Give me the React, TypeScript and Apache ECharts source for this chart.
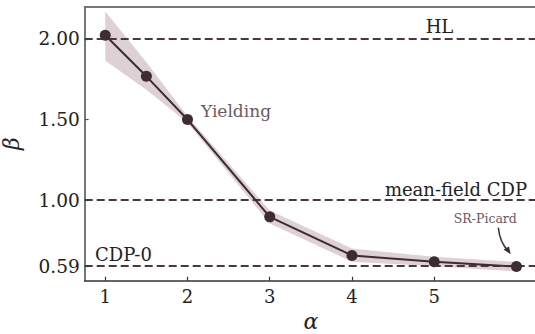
import React, { useEffect, useRef } from "react";
import * as echarts from "echarts";

const alphas = [1, 1.5, 2, 3, 4, 5, 6];
const betaValues = [2.023, 1.768, 1.5, 0.896, 0.657, 0.617, 0.588];
const bandUpper = [2.17, 1.855, 1.52, 0.935, 0.7, 0.648, 0.617];
const bandLower = [1.864, 1.685, 1.48, 0.855, 0.618, 0.59, 0.558];
const refLines = [
  { value: 2.0, label: "HL" },
  { value: 1.0, label: "mean-field CDP" },
  { value: 0.59, label: "CDP-0" },
];
const yTicks = [0.59, 1.0, 1.5, 2.0];
const xTicks = [1, 2, 3, 4, 5];

const FONT = "DejaVu Serif";
const DARK = "#3e2c34";
const DASH = "#4a3840";
const BAND = "#ddd1d4";
const MAUVE = "#6d5963";

export default function App() {
  const ref = useRef<HTMLDivElement>(null);
  useEffect(() => {
    if (!ref.current) return;
    const chart = echarts.init(ref.current, null, { renderer: "svg" });
    const option: any = {
      animation: false,
      backgroundColor: "#ffffff",
      grid: { left: 84.7, right: -2, top: 6.7, bottom: 53.3, containLabel: false, outerBoundsMode: "none" },
      xAxis: [
        {
          type: "value",
          min: 0.75,
          max: 6.25,
          name: "α",
          nameLocation: "middle",
          nameGap: 30,
          nameTextStyle: { fontFamily: FONT, fontStyle: "italic", fontSize: 22, color: "#222" },
          axisLine: { show: true, lineStyle: { color: "#333", width: 1.6 } },
          axisTick: { show: true, inside: true, length: 4, lineStyle: { color: "#333", width: 1.2 }, customValues: xTicks },
          axisLabel: {
            fontFamily: FONT,
            fontSize: 18,
            color: "#222",
            margin: 7,
            customValues: xTicks,
            formatter: (v: number) => String(v),
          },
          splitLine: { show: false },
        },
        {
          type: "value",
          position: "top",
          min: 0.75,
          max: 6.25,
          axisLine: { show: true, onZero: false, lineStyle: { color: "#777", width: 2 } },
          axisTick: { show: false },
          axisLabel: { show: false },
          splitLine: { show: false },
        },
      ],
      yAxis: {
        type: "value",
        min: 0.5,
        max: 2.2,
        name: "β",
        nameLocation: "middle",
        nameGap: 62,
        nameRotate: 90,
        nameTextStyle: { fontFamily: FONT, fontStyle: "italic", fontSize: 22, color: "#222" },
        axisLine: { show: true, onZero: false, lineStyle: { color: "#555", width: 1.6 } },
        axisTick: { show: true, inside: true, length: 4, lineStyle: { color: "#555", width: 1.2 }, customValues: yTicks },
        axisLabel: {
          fontFamily: FONT,
          fontSize: 18.5,
          color: "#222",
          margin: 5,
          customValues: yTicks,
          formatter: (v: number) => v.toFixed(2),
        },
        splitLine: { show: false },
      },
      series: [
        {
          type: "custom",
          silent: true,
          z: 1,
          data: [0],
          renderItem: (params: any, api: any) => {
            const up = alphas.map((a, i) => api.coord([a, bandUpper[i]]));
            const lo = alphas.map((a, i) => api.coord([a, bandLower[i]])).reverse();
            return {
              type: "polygon",
              shape: { points: up.concat(lo) },
              style: { fill: BAND },
            };
          },
        },
        {
          type: "line",
          data: alphas.map((a, i) => [a, betaValues[i]]),
          lineStyle: { color: DARK, width: 2 },
          itemStyle: { color: DARK },
          symbol: "circle",
          symbolSize: 11,
          z: 5,
          markLine: {
            silent: true,
            symbol: "none",
            label: { show: false },
            lineStyle: { color: DASH, type: [8, 4], width: 2 },
            data: refLines.map((r) => ({ yAxis: r.value })),
            z: 3,
          },
        },
      ],
      graphic: {
        elements: [
          { type: "text", z: 100, x: 439.5, y: 26, style: { text: refLines[0].label, font: `18px "${FONT}"`, fill: "#222", align: "center", verticalAlign: "middle" } },
          { type: "text", z: 100, x: 527, y: 189, style: { text: refLines[1].label, font: `18px "${FONT}"`, fill: "#222", align: "right", verticalAlign: "middle" } },
          { type: "text", z: 100, x: 95, y: 254.5, style: { text: refLines[2].label, font: `18px "${FONT}"`, fill: "#222", align: "left", verticalAlign: "middle" } },
          { type: "text", z: 100, x: 201, y: 111, style: { text: "Yielding", font: `17px "${FONT}"`, fill: MAUVE, align: "left", verticalAlign: "middle" } },
          { type: "text", z: 100, x: 485.3, y: 218.5, style: { text: "SR-Picard", font: `12.5px "${FONT}"`, fill: MAUVE, align: "center", verticalAlign: "middle" } },
          {
            type: "bezierCurve",
            z: 100,
            shape: { x1: 498.3, y1: 227.7, cpx1: 500, cpy1: 243, x2: 508, y2: 250.5 },
            style: { stroke: DARK, lineWidth: 1.5, fill: "none" },
          },
          {
            type: "polygon",
            z: 100,
            shape: { points: [[510.7, 254.3], [503.5, 249.5], [509, 246.5]] },
            style: { fill: DARK },
          },
        ],
      },
    };
    chart.setOption(option);
    return () => chart.dispose();
  }, []);
  return <div ref={ref} style={{ position: "fixed", left: 0, top: 0, width: 535, height: 334 }} />;
}
